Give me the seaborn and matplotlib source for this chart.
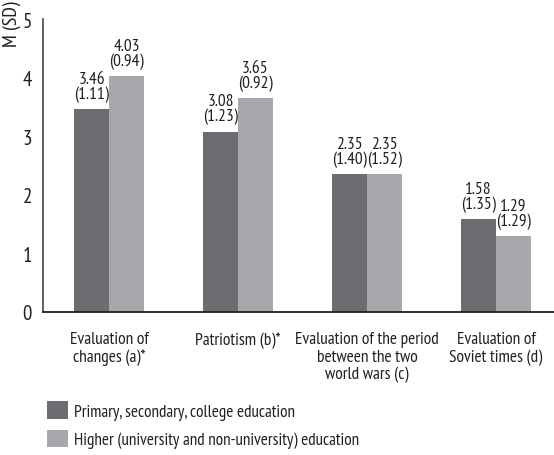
import matplotlib
matplotlib.use("Agg")
import matplotlib.pyplot as plt
import seaborn as sns
import pandas as pd
from matplotlib.patches import Patch

categories = [
    "Evaluation of\nchanges (a)*",
    "Patriotism (b)*",
    "Evaluation of the period\nbetween the two\nworld wars (c)",
    "Evaluation of\nSoviet times (d)",
]
groups = [
    "Primary, secondary, college education",
    "Higher (university and non-university) education",
]
means_lower = [3.46, 3.08, 2.35, 1.58]
sd_lower = [1.11, 1.23, 1.40, 1.35]
means_higher = [4.03, 3.65, 2.35, 1.29]
sd_higher = [0.94, 0.92, 1.52, 1.29]
y_ticks = [0, 1, 2, 3, 4, 5]

colors = ["#6c6d71", "#a7a8ac"]
ink = "#231f20"

df = pd.DataFrame({
    "category": categories * 2,
    "group": [groups[0]] * 4 + [groups[1]] * 4,
    "mean": means_lower + means_higher,
    "sd": sd_lower + sd_higher,
})

sns.set_style("white")
plt.rcParams["font.family"] = ["PT Sans Narrow", "DejaVu Sans"]
plt.rcParams["text.color"] = ink

fig = plt.figure(figsize=(5.54, 4.56), dpi=100)
ax = fig.add_axes([0.078, 0.3136, 0.922, 0.6425])

sns.barplot(data=df, x="category", y="mean", hue="group", order=categories,
            hue_order=groups, palette=colors, width=0.54, saturation=1,
            errorbar=None, legend=False, ax=ax, linewidth=0)

# mean and SD above each bar
for container, sds in zip(ax.containers, [sd_lower, sd_higher]):
    labels = [f"{bar.get_height():.2f}\n({sd:.2f})" for bar, sd in zip(container, sds)]
    ax.bar_label(container, labels=labels, padding=5, fontsize=12.5,
                 linespacing=0.92, color=ink)

ax.set_ylim(0, 5)
ax.set_xlim(-0.51, 3.45)
ax.set_yticks(y_ticks)
ax.set_yticklabels([str(t) for t in y_ticks], fontsize=15, color=ink)
ax.set_xticks(range(len(categories)))
ax.set_xticklabels(categories, fontsize=12.5, linespacing=1.1, color=ink)
ax.tick_params(axis="x", length=0, pad=14)
ax.tick_params(axis="y", length=0, pad=8)
ax.set_xlabel("")
ax.set_ylabel("")

for side in ["top", "right"]:
    ax.spines[side].set_visible(False)
ax.spines["left"].set_color("#555555")
ax.spines["left"].set_linewidth(1.3)
ax.spines["bottom"].set_color(ink)
ax.spines["bottom"].set_linewidth(1.3)

fig.text(0.021, 0.998, "M (SD)", rotation=90, ha="center", va="top", fontsize=14.5)

handles = [Patch(facecolor=c, edgecolor="none") for c in colors]
fig.legend(handles, groups, loc="upper left", bbox_to_anchor=(0.085, 0.118),
           frameon=False, fontsize=12.3, handlelength=1.2, handleheight=1.2,
           handletextpad=0.4, labelspacing=0.6, borderaxespad=0, borderpad=0)

fig.savefig("out.png", dpi=100)
